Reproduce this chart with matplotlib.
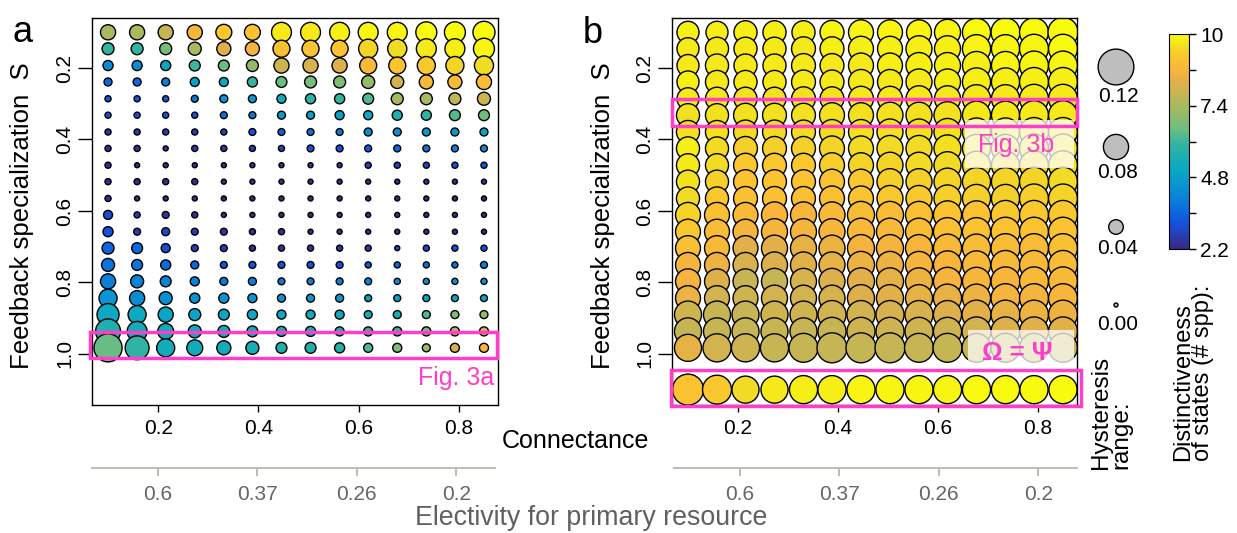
import matplotlib
matplotlib.use("Agg")
import matplotlib.pyplot as plt
import numpy as np
from matplotlib.colors import LinearSegmentedColormap, Normalize
from matplotlib.patches import Rectangle
from matplotlib.cm import ScalarMappable

plt.rcParams["font.family"] = ["Liberation Sans", "DejaVu Sans"]

# grid of parameter values
connectance = [0.100, 0.158, 0.215, 0.273, 0.331, 0.388, 0.446,
               0.504, 0.562, 0.619, 0.677, 0.735, 0.792, 0.850]
specialization = [0.100, 0.146, 0.193, 0.239, 0.286, 0.332, 0.379, 0.425, 0.472, 0.518,
                  0.565, 0.611, 0.658, 0.704, 0.751, 0.797, 0.844, 0.890, 0.937, 0.983]
s_identity = 1.1  # extra row in b: Omega = Psi

# panel a: hysteresis range (circle size) and distinctiveness (colour)
hyst_a = [
    [.042, .042, .042, .042, .045, .045, .060, .060, .060, .060, .060, .064, .064, .068],
    [.030, .030, .030, .034, .038, .038, .049, .049, .049, .057, .057, .060, .060, .064],
    [.023, .023, .023, .026, .026, .030, .042, .042, .042, .049, .049, .053, .053, .057],
    [.015, .015, .015, .019, .019, .023, .026, .030, .030, .034, .034, .038, .038, .042],
    [.008, .008, .008, .011, .015, .015, .019, .023, .023, .026, .030, .030, .030, .034],
    [.008, .008, .008, .008, .011, .011, .015, .015, .019, .019, .023, .023, .026, .026],
    [.008, .008, .008, .008, .008, .011, .011, .011, .011, .015, .015, .015, .015, .015],
    [.008, .008, .004, .008, .008, .008, .008, .011, .011, .011, .011, .011, .011, .011],
    [.008, .004, .004, .004, .004, .004, .004, .004, .004, .008, .008, .008, .008, .008],
    [.008, .008, .008, .008, .004, .004, .004, .004, .004, .004, .004, .004, .004, .004],
    [.008, .004, .004, .004, .004, .004, .004, .004, .004, .004, .004, .004, .004, .004],
    [.019, .008, .011, .008, .004, .004, .004, .004, .004, .004, .004, .004, .004, .004],
    [.023, .011, .015, .011, .011, .008, .008, .004, .004, .004, .004, .004, .004, .004],
    [.030, .026, .019, .011, .011, .008, .008, .008, .008, .008, .004, .008, .008, .008],
    [.034, .026, .023, .015, .011, .011, .011, .011, .011, .008, .008, .008, .008, .011],
    [.042, .034, .026, .019, .015, .015, .011, .011, .011, .011, .008, .008, .008, .008],
    [.053, .042, .034, .023, .023, .019, .015, .015, .015, .011, .011, .011, .011, .011],
    [.068, .053, .042, .030, .026, .023, .019, .019, .019, .015, .015, .015, .015, .015],
    [.079, .060, .045, .034, .030, .026, .023, .023, .019, .019, .019, .019, .019, .019],
    [.091, .075, .053, .045, .038, .034, .026, .026, .023, .019, .019, .015, .019, .019],
]
dist_a = [
    [7.4, 7.4, 7.8, 8.7, 9.2, 9.1, 9.7, 9.7, 9.8, 9.9, 9.9, 10., 10., 10.],
    [6.0, 6.0, 6.7, 7.4, 8.3, 8.6, 9.0, 9.1, 9.1, 9.4, 9.5, 9.7, 9.8, 9.9],
    [4.3, 4.3, 5.0, 6.1, 6.5, 7.0, 7.9, 8.1, 8.2, 8.8, 9.1, 9.2, 9.4, 9.5],
    [3.6, 3.6, 4.0, 4.9, 5.0, 6.0, 6.5, 6.7, 6.8, 7.1, 8.0, 8.8, 8.8, 8.9],
    [3.2, 3.2, 3.3, 3.9, 4.5, 4.6, 5.3, 5.9, 6.0, 6.3, 7.3, 7.4, 7.7, 7.9],
    [3.1, 3.1, 3.1, 3.2, 3.7, 3.8, 4.6, 4.8, 4.9, 5.1, 5.6, 5.9, 6.3, 6.6],
    [2.6, 2.6, 2.7, 2.7, 2.8, 3.1, 3.4, 3.7, 3.9, 4.3, 4.4, 4.6, 4.6, 5.0],
    [2.4, 2.4, 2.5, 2.5, 2.6, 2.7, 2.8, 3.1, 3.1, 3.3, 3.6, 3.8, 4.0, 4.2],
    [2.3, 2.3, 2.3, 2.3, 2.3, 2.4, 2.4, 2.5, 2.6, 2.7, 2.8, 2.9, 3.1, 3.2],
    [2.3, 2.3, 2.3, 2.3, 2.3, 2.3, 2.3, 2.3, 2.3, 2.3, 2.3, 2.4, 2.4, 2.5],
    [2.4, 2.3, 2.3, 2.3, 2.2, 2.2, 2.2, 2.2, 2.2, 2.2, 2.2, 2.2, 2.2, 2.2],
    [3.0, 2.7, 2.5, 2.4, 2.3, 2.3, 2.3, 2.3, 2.3, 2.3, 2.3, 2.3, 2.3, 2.3],
    [3.1, 2.7, 2.9, 2.6, 2.5, 2.4, 2.4, 2.3, 2.3, 2.3, 2.3, 2.3, 2.3, 2.3],
    [3.5, 3.6, 3.0, 2.7, 2.6, 2.4, 2.4, 2.4, 2.5, 2.6, 2.8, 2.9, 3.1, 3.1],
    [3.8, 3.8, 3.6, 3.5, 3.2, 3.2, 3.1, 3.1, 3.1, 3.3, 3.6, 3.7, 3.8, 4.0],
    [4.0, 4.1, 4.1, 4.1, 3.9, 4.0, 3.9, 4.0, 4.0, 4.1, 4.4, 4.4, 4.5, 4.5],
    [4.5, 4.3, 4.4, 4.5, 4.5, 4.5, 4.5, 4.6, 4.6, 4.8, 4.8, 4.9, 4.9, 5.0],
    [5.1, 5.1, 5.0, 5.0, 5.0, 5.1, 5.1, 5.2, 5.2, 5.3, 5.5, 6.3, 6.8, 7.0],
    [5.6, 5.3, 5.2, 5.2, 5.3, 5.3, 5.3, 5.3, 5.5, 5.8, 6.0, 6.6, 7.5, 7.9],
    [6.5, 5.9, 5.3, 5.3, 5.3, 5.4, 5.6, 5.7, 5.7, 6.3, 6.8, 7.2, 8.0, 8.7],
]

# panel b
hyst_b = [
    [.068, .068, .072, .072, .072, .075, .079, .079, .079, .083, .091, .094, .094, .098],
    [.068, .072, .072, .072, .075, .075, .079, .079, .083, .083, .091, .091, .094, .094],
    [.068, .072, .072, .072, .075, .075, .079, .079, .083, .083, .091, .091, .094, .094],
    [.068, .072, .072, .072, .075, .075, .079, .079, .083, .083, .091, .091, .094, .094],
    [.068, .072, .072, .072, .075, .075, .079, .079, .083, .083, .091, .091, .094, .094],
    [.072, .072, .075, .075, .075, .079, .079, .083, .083, .087, .091, .091, .094, .094],
    [.072, .072, .075, .075, .075, .079, .079, .083, .083, .087, .091, .091, .094, .094],
    [.072, .072, .075, .075, .075, .079, .079, .083, .083, .087, .091, .091, .094, .094],
    [.072, .072, .075, .075, .075, .079, .079, .083, .083, .087, .091, .091, .094, .094],
    [.072, .072, .075, .075, .075, .079, .079, .083, .083, .087, .091, .091, .094, .094],
    [.072, .072, .075, .075, .075, .079, .079, .083, .083, .087, .091, .091, .094, .094],
    [.079, .079, .079, .083, .083, .083, .087, .087, .087, .091, .091, .094, .094, .094],
    [.079, .079, .079, .083, .083, .083, .087, .087, .087, .091, .091, .094, .094, .094],
    [.079, .079, .079, .083, .083, .083, .087, .087, .087, .091, .091, .094, .094, .094],
    [.079, .079, .079, .083, .083, .083, .087, .087, .087, .091, .091, .094, .094, .094],
    [.079, .079, .079, .083, .083, .083, .087, .087, .087, .091, .091, .094, .094, .094],
    [.079, .079, .079, .083, .083, .083, .087, .087, .087, .091, .091, .094, .094, .094],
    [.087, .087, .087, .087, .087, .091, .091, .091, .091, .091, .094, .094, .094, .094],
    [.087, .087, .087, .087, .087, .091, .091, .091, .091, .091, .094, .094, .094, .094],
    [.087, .091, .091, .091, .094, .098, .098, .098, .094, .094, .094, .094, .094, .094],
]
dist_b = [
    [9.8, 9.8, 9.8, 9.8, 9.8, 9.9, 9.9, 9.9, 9.9, 9.9, 10., 10., 10., 10.],
    [9.7, 9.7, 9.7, 9.7, 9.7, 9.8, 9.8, 9.8, 9.8, 9.8, 9.9, 9.9, 9.9, 10.],
    [9.7, 9.7, 9.7, 9.7, 9.7, 9.7, 9.7, 9.8, 9.8, 9.8, 9.8, 9.9, 9.9, 9.9],
    [9.8, 9.7, 9.7, 9.7, 9.7, 9.7, 9.7, 9.7, 9.7, 9.8, 9.8, 9.8, 9.8, 9.8],
    [9.7, 9.7, 9.6, 9.6, 9.6, 9.6, 9.7, 9.7, 9.7, 9.7, 9.7, 9.7, 9.7, 9.7],
    [9.6, 9.6, 9.6, 9.6, 9.6, 9.6, 9.6, 9.6, 9.6, 9.6, 9.7, 9.7, 9.7, 9.7],
    [9.6, 9.6, 9.5, 9.5, 9.5, 9.5, 9.6, 9.6, 9.6, 9.6, 9.6, 9.6, 9.6, 9.7],
    [9.8, 9.5, 9.3, 9.3, 9.3, 9.4, 9.5, 9.5, 9.5, 9.6, 9.6, 9.6, 9.6, 9.6],
    [9.7, 9.5, 9.2, 9.2, 9.2, 9.3, 9.4, 9.4, 9.5, 9.5, 9.5, 9.5, 9.5, 9.6],
    [9.6, 9.3, 9.1, 9.1, 9.1, 9.1, 9.2, 9.3, 9.3, 9.4, 9.4, 9.4, 9.4, 9.5],
    [9.5, 9.2, 9.0, 9.0, 9.0, 9.0, 9.1, 9.2, 9.2, 9.3, 9.3, 9.3, 9.3, 9.4],
    [9.4, 9.0, 8.8, 8.7, 8.7, 8.8, 8.9, 8.9, 9.0, 9.1, 9.1, 9.2, 9.2, 9.2],
    [9.2, 8.9, 8.6, 8.6, 8.6, 8.7, 8.8, 8.8, 8.9, 9.0, 9.1, 9.1, 9.1, 9.1],
    [9.0, 8.8, 8.3, 8.3, 8.4, 8.5, 8.6, 8.6, 8.7, 8.8, 8.9, 8.9, 8.9, 9.0],
    [8.6, 8.5, 8.1, 8.2, 8.3, 8.4, 8.5, 8.5, 8.6, 8.7, 8.8, 8.8, 8.8, 8.9],
    [8.6, 8.2, 7.8, 7.8, 8.1, 8.2, 8.3, 8.4, 8.5, 8.6, 8.7, 8.7, 8.8, 8.8],
    [8.5, 8.0, 7.9, 8.0, 8.0, 8.1, 8.2, 8.3, 8.4, 8.4, 8.5, 8.6, 8.6, 8.7],
    [7.9, 7.8, 7.8, 7.9, 7.9, 8.0, 8.0, 8.1, 8.1, 8.2, 8.3, 8.4, 8.5, 8.5],
    [7.8, 7.8, 7.8, 7.8, 7.8, 7.8, 7.9, 7.9, 7.9, 7.9, 8.0, 8.2, 8.3, 8.3],
    [8.4, 8.0, 7.9, 7.8, 7.8, 7.8, 7.8, 7.8, 7.8, 7.8, 7.8, 7.8, 7.8, 7.8],
]
hyst_b_id = [.102, .094, .087, .087, .091, .091, .091, .091, .091, .091, .091, .091, .091, .091]
dist_b_id = [9.1, 9.2, 9.5, 9.7, 9.8, 9.8, 9.9, 9.9, 9.9, 9.9, 10., 10., 10., 10.]

x_ticks = [0.2, 0.4, 0.6, 0.8]
y_ticks = [0.2, 0.4, 0.6, 0.8, 1.0]
elect_labels = ["0.6", "0.37", "0.26", "0.2"]
legend_hyst = [0.12, 0.08, 0.04, 0.00]
legend_labels = ["0.12", "0.08", "0.04", "0.00"]
cbar_ticks = [2.2, 3.5, 4.8, 6.1, 7.4, 8.7, 10]
cbar_labels = ["2.2", "", "4.8", "", "7.4", "", "10"]

# parula-like palette
cmap_stops = [0.0, 0.05, 0.115, 0.18, 0.23, 0.30, 0.36, 0.42, 0.49, 0.55, 0.62,
              0.67, 0.73, 0.78, 0.83, 0.885, 0.94, 1.0]
cmap_colors = ["#352A87", "#2B3AA8", "#1650DC", "#0A6CE0", "#0A80D8", "#0A96D0",
               "#0AA6C4", "#18AEB4", "#35B49E", "#66BD84", "#94BA6A", "#A9B95E",
               "#CDB452", "#E0B04A", "#F7B53C", "#FBC232", "#F2DC23", "#F9FB0E"]
cmap = LinearSegmentedColormap.from_list("parula_like", list(zip(cmap_stops, cmap_colors)))
norm = Normalize(2.2, 10)

PINK = "#FF3DC8"
DPI = 100
W, H = 1237, 533
XLIM = (0.068, 0.878)
YLIM = (1.143, 0.06)


def fx(px):
    return px / W


def fy(py):
    return 1 - py / H


def msize(h):
    d_px = 4 + 265 * np.asarray(h)
    return (d_px * 72.0 / DPI) ** 2


def draw_grid(ax, xs, ys, hyst, dist):
    X, Y = np.meshgrid(xs, ys)
    ax.scatter(X.ravel(), Y.ravel(), s=msize(np.ravel(hyst)), c=np.ravel(dist),
               cmap=cmap, norm=norm, edgecolors="black", linewidths=1.0, zorder=2)


def style_axes(ax):
    ax.set_xlim(XLIM)
    ax.set_ylim(YLIM)
    ax.set_xticks(x_ticks)
    ax.set_xticklabels([f"{t:.1f}" for t in x_ticks])
    ax.set_yticks(y_ticks)
    ax.set_yticklabels([f"{t:.1f}" for t in y_ticks], rotation=90, va="center")
    ax.tick_params(axis="x", length=5, width=1, pad=5, labelsize=15)
    ax.tick_params(axis="y", length=10, width=1, pad=3, labelsize=15)
    for sp in ax.spines.values():
        sp.set_linewidth(1)


def electivity_axis(left_px, width_px):
    eax = fig.add_axes([fx(left_px), fy(468), width_px / W, 0.0005])
    eax.set_xlim(XLIM)
    eax.patch.set_visible(False)
    for name in ["top", "left", "right"]:
        eax.spines[name].set_visible(False)
    eax.spines["bottom"].set_color("#BEBEB4")
    eax.spines["bottom"].set_linewidth(1.5)
    eax.set_yticks([])
    eax.set_xticks(x_ticks)
    eax.set_xticklabels(elect_labels)
    eax.tick_params(axis="x", length=6, width=1.5, color="#BEBEB4",
                    labelcolor="#666666", labelsize=15, pad=6)


fig = plt.figure(figsize=(W / DPI, H / DPI), dpi=DPI)

# ---- panel a ----
ax_a = fig.add_axes([fx(92), fy(405), 406 / W, 387 / H])
draw_grid(ax_a, connectance, specialization, hyst_a, dist_a)
style_axes(ax_a)
ax_a.add_patch(Rectangle((0.064, 0.938), 0.812, 0.073, fill=False, edgecolor=PINK,
                         linewidth=2.5, clip_on=False, zorder=5))
ax_a.text(0.870, 1.067, "Fig. 3a", color=PINK, ha="right", va="center", fontsize=18)

# ---- panel b ----
ax_b = fig.add_axes([fx(672), fy(405), 405 / W, 387 / H])
draw_grid(ax_b, connectance, specialization, hyst_b, dist_b)
draw_grid(ax_b, connectance, [s_identity], [hyst_b_id], [dist_b_id])
style_axes(ax_b)
ax_b.add_patch(Rectangle((0.653, 0.345), 0.219, 0.135, facecolor="white", alpha=0.75,
                         edgecolor="none", zorder=3))
ax_b.text(0.757, 0.415, "Fig. 3b", color=PINK, ha="center", va="center", fontsize=18, zorder=4)
ax_b.add_patch(Rectangle((0.659, 0.933), 0.213, 0.092, facecolor="white", alpha=0.75,
                         edgecolor="none", zorder=3))
ax_b.text(0.759, 0.997, "\u03A9 = \u03A8", color=PINK, ha="center", va="center",
          fontsize=18.5, fontweight="bold", zorder=4)
ax_b.add_patch(Rectangle((0.068, 0.287), 0.810, 0.075, fill=False, edgecolor=PINK,
                         linewidth=2.5, clip_on=False, zorder=5))
ax_b.add_patch(Rectangle((0.066, 1.045), 0.820, 0.100, fill=False, edgecolor=PINK,
                         linewidth=2.5, clip_on=False, zorder=5))

# secondary (electivity) axes
electivity_axis(92, 403)
electivity_axis(674, 403)

# labels
for xc in (22, 603):
    fig.text(fx(xc), fy(216), "Feedback specialization  S", rotation=90,
             ha="center", va="center", fontsize=18.5)
fig.text(fx(12), fy(42), "a", fontsize=26, va="baseline")
fig.text(fx(583), fy(43), "b", fontsize=26, va="baseline")
fig.text(fx(575), fy(441), "Connectance", ha="center", va="center", fontsize=18)
fig.text(fx(591), fy(518), "Electivity for primary resource", ha="center", va="center",
         fontsize=19.3, color="#606060")

# size legend
lax = fig.add_axes([fx(1085), fy(340), 60 / W, 310 / H])
lax.set_xlim(1085, 1145)
lax.set_ylim(340, 30)
lax.axis("off")
leg_y = [67, 147, 227, 305]
lab_y = [97, 173, 248, 325]
lax.scatter([1116] * 4, leg_y, s=msize(legend_hyst), c="#BEBEBE",
            edgecolors="black", linewidths=1.0, clip_on=False)
for ly, lab in zip(lab_y, legend_labels):
    lax.text(1118, ly, lab, ha="center", va="center", fontsize=15)
fig.text(fx(1111), fy(469), "Hysteresis\nrange:", rotation=90, ha="center", va="bottom",
         multialignment="left", fontsize=17.5, linespacing=0.9)

# colour bar
cax = fig.add_axes([fx(1169), fy(249), 20 / W, 215 / H])
sm = ScalarMappable(norm=norm, cmap=cmap)
cb = fig.colorbar(sm, cax=cax, ticks=cbar_ticks)
cb.ax.set_yticklabels(cbar_labels)
cb.ax.tick_params(length=5, width=1, labelsize=15, pad=3)
cb.outline.set_linewidth(0.8)
fig.text(fx(1193), fy(461), "Distinctiveness\nof states (# spp):", rotation=90,
         ha="center", va="bottom", multialignment="left", fontsize=17, linespacing=0.9)

fig.savefig("out.png", dpi=DPI)
